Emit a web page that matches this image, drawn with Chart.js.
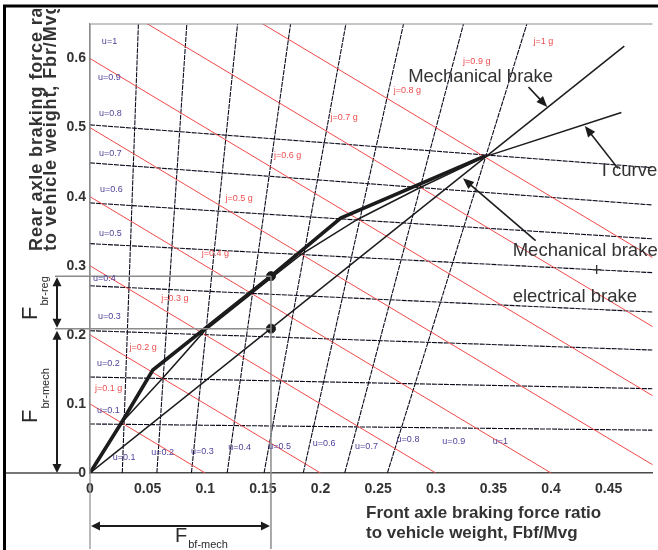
<!DOCTYPE html>
<html><head><meta charset="utf-8">
<script src="https://cdn.jsdelivr.net/npm/chart.js@4"></script>
<style>html,body{margin:0;padding:0;background:#fff}canvas{display:block}</style>
</head><body>
<canvas id="c" width="658" height="550"></canvas>
<script>
const FONT = '"Liberation Sans", Arial, Helvetica, sans-serif';

// axis ranges (front ratio Fbf/Mvg on x, rear ratio Fbr/Mvg on y)
const xMin = 0, xMax = 0.488, xStep = 0.05;
const yMin = 0, yMax = 0.65, yStep = 0.1;

// constant deceleration lines j = Fbf + Fbr
const jLevels = [0.1, 0.2, 0.3, 0.4, 0.5, 0.6, 0.7, 0.8];

// rear axle adhesion utilisation lines (nearly horizontal), u = 0.1 ... 0.8
const rearU = [0.1, 0.2, 0.3, 0.4, 0.5, 0.6, 0.7, 0.8];
const rearStartFbr = [0.071, 0.139, 0.206, 0.271, 0.332, 0.391, 0.449, 0.504]; // at Fbf = 0
const rearEndFbr   = [0.062, 0.122, 0.178, 0.233, 0.290, 0.339, 0.388, 0.442]; // at Fbf = rearEndFbf
const rearEndFbf = 0.488;

// front axle adhesion utilisation lines (nearly vertical), u = 0.1 ... 0.8
const frontU = [0.1, 0.2, 0.3, 0.4, 0.5, 0.6, 0.7, 0.8];
const frontBottomFbf = [0.028, 0.058, 0.088, 0.119, 0.151, 0.185, 0.221, 0.258]; // at Fbr = 0
const frontTopFbf    = [0.042, 0.084, 0.128, 0.174, 0.222, 0.272, 0.324, 0.379]; // at Fbr = frontTopFbr
const frontTopFbr = 0.65;

// ideal braking force distribution (I curve)
const iCurveFbf = [0, 0.027, 0.063, 0.099, 0.157, 0.183, 0.232, 0.286, 0.343, 0.461];
const iCurveFbr = [0, 0.072, 0.137, 0.205, 0.282, 0.316, 0.367, 0.413, 0.458, 0.522];

// mechanical + electrical (regenerative) brake distribution
const combinedFbf = [0, 0.027, 0.0545, 0.157, 0.2175, 0.343];
const combinedFbr = [0, 0.072, 0.149, 0.285, 0.369, 0.459];

// mechanical brake only (fixed ratio line)
const mechFbf = [0, 0.4635];
const mechFbr = [0, 0.618];

// marked operating points
const markFbf = [0.157, 0.157];
const markFbr = [0.285, 0.209];

// labels
const rearLabelText = ['u=1','u=0.9','u=0.8','u=0.7','u=0.6','u=0.5','u=0.4','u=0.3','u=0.2','u=0.1'];
const rearLabelFbf  = [0.0103, 0.0069, 0.0077, 0.0077, 0.0086, 0.0077, 0.0026, 0.0069, 0.006, 0.006];
const rearLabelFbr  = [0.624, 0.573, 0.521, 0.463, 0.410, 0.347, 0.282, 0.226, 0.159, 0.091];

const frontLabelText = ['u=0.1','u=0.2','u=0.3','u=0.4','u=0.5','u=0.6','u=0.7','u=0.8','u=0.9','u=1'];
const frontLabelFbf  = [0.0198, 0.0532, 0.0876, 0.120, 0.1546, 0.1932, 0.230, 0.266, 0.3057, 0.3495];
const frontLabelFbr  = [0.0217, 0.029, 0.0318, 0.0362, 0.039, 0.0434, 0.039, 0.0478, 0.0463, 0.0463];

const jLabelText = ['j=0.1 g','j=0.2 g','j=0.3 g','j=0.4 g','j=0.5 g','j=0.6 g','j=0.7 g','j=0.8 g','j=0.9 g','j=1 g'];
const jLabelFbf  = [0.0043, 0.0343, 0.0618, 0.097, 0.1176, 0.1597, 0.2087, 0.2636, 0.3237, 0.3847];
const jLabelFbr  = [0.1216, 0.181, 0.252, 0.318, 0.397, 0.459, 0.515, 0.554, 0.595, 0.625];

const noteText = ['Mechanical brake', 'I curve', 'Mechanical brake', 'electrical brake'];
const noteFbf  = [0.276, 0.444, 0.3667, 0.3667];
const noteFbr  = [0.566, 0.430, 0.314, 0.2475];
const plusFbf = 0.4395, plusFbr = 0.2924;

const arrowFromFbf = [0.3804, 0.458, 0.3866];
const arrowFromFbr = [0.5588, 0.441, 0.3363];
const arrowToFbf   = [0.3967, 0.4293, 0.3236];
const arrowToFbr   = [0.5298, 0.5024, 0.4266];

const xTitle = ['Front axle braking force ratio', 'to vehicle weight, Fbf/Mvg'];
const yTitle = ['Rear axle braking force ratio', 'to vehicle weight, Fbr/Mvg'];

// ---------------- datasets ----------------
const pts = (xs, ys) => xs.map((x, i) => ({x, y: ys[i]}));
const datasets = [];
const lineBase = {showLine: true, pointRadius: 0, tension: 0, fill: false};

jLevels.forEach(j => datasets.push(Object.assign({}, lineBase, {
  data: [{x: 0, y: j}, {x: j, y: 0}], borderColor: '#ef4a4a', borderWidth: 1, order: 9
})));
rearU.forEach((u, i) => datasets.push(Object.assign({}, lineBase, {
  data: [{x: 0, y: rearStartFbr[i]}, {x: rearEndFbf, y: rearEndFbr[i]}],
  borderColor: '#0c0c1e', borderWidth: 1.1, borderDash: [5, 1], order: 10
})));
frontU.forEach((u, i) => datasets.push(Object.assign({}, lineBase, {
  data: [{x: frontBottomFbf[i], y: 0}, {x: frontTopFbf[i], y: frontTopFbr}],
  borderColor: '#0c0c1e', borderWidth: 1.1, borderDash: [5, 1], order: 10
})));
datasets.push(Object.assign({}, lineBase, {data: pts(mechFbf, mechFbr), borderColor: '#1c1c1c', borderWidth: 1.5, order: 3}));
datasets.push(Object.assign({}, lineBase, {data: pts(iCurveFbf, iCurveFbr), borderColor: '#1c1c1c', borderWidth: 1.5, order: 2}));
datasets.push(Object.assign({}, lineBase, {data: pts(combinedFbf, combinedFbr), borderColor: '#1c1c1c', borderWidth: 3.6, order: 1}));
datasets.push({data: pts(markFbf, markFbr), showLine: false, pointRadius: 4.5, pointBackgroundColor: '#1c1c1c', pointBorderColor: '#1c1c1c', order: 0});

// ---------------- drawing helpers ----------------
function seg(ctx, x1, y1, x2, y2) { ctx.beginPath(); ctx.moveTo(x1, y1); ctx.lineTo(x2, y2); ctx.stroke(); }
function head(ctx, x1, y1, x2, y2, len, hw) {
  const a = Math.atan2(y2 - y1, x2 - x1);
  ctx.beginPath();
  ctx.moveTo(x2, y2);
  ctx.lineTo(x2 - len * Math.cos(a) + hw * Math.sin(a), y2 - len * Math.sin(a) - hw * Math.cos(a));
  ctx.lineTo(x2 - len * Math.cos(a) - hw * Math.sin(a), y2 - len * Math.sin(a) + hw * Math.cos(a));
  ctx.closePath(); ctx.fill();
}
function arrow(ctx, x1, y1, x2, y2, len, hw) {
  const a = Math.atan2(y2 - y1, x2 - x1);
  seg(ctx, x1, y1, x2 - len * 0.8 * Math.cos(a), y2 - len * 0.8 * Math.sin(a));
  head(ctx, x1, y1, x2, y2, len, hw);
}
function dblArrow(ctx, x1, y1, x2, y2, len, hw) {
  const a = Math.atan2(y2 - y1, x2 - x1);
  seg(ctx, x1 + len * 0.8 * Math.cos(a), y1 + len * 0.8 * Math.sin(a), x2 - len * 0.8 * Math.cos(a), y2 - len * 0.8 * Math.sin(a));
  head(ctx, x1, y1, x2, y2, len, hw);
  head(ctx, x2, y2, x1, y1, len, hw);
}
function fSub(ctx, x, y, rot, sub, subDy, fSize) {
  ctx.save();
  ctx.translate(x, y);
  if (rot) ctx.rotate(-Math.PI / 2);
  ctx.textAlign = 'left'; ctx.textBaseline = 'alphabetic';
  ctx.font = fSize + 'px ' + FONT;
  ctx.fillText('F', 0, 0);
  const w = ctx.measureText('F').width;
  ctx.font = '11px ' + FONT;
  ctx.fillText(sub, w + 1, subDy);
  ctx.restore();
}

const annot = {
  id: 'annot',
  afterDraw(chart) {
    const {ctx, chartArea: ca} = chart;
    const xs = chart.scales.x, ys = chart.scales.y;
    const X = v => xs.getPixelForValue(v), Y = v => ys.getPixelForValue(v);
    ctx.save();

    // plot frame lines
    ctx.strokeStyle = '#8c8c8c'; ctx.lineWidth = 1.2;
    seg(ctx, ca.left, ca.top, ca.right, ca.top);
    seg(ctx, X(0), ca.top, X(0), 549);
    ctx.strokeStyle = '#4a4a4a'; ctx.lineWidth = 1.4;
    seg(ctx, 5, Y(0), 80, Y(0));

    // guide lines to the marked points
    ctx.strokeStyle = '#8c8c8c'; ctx.lineWidth = 1.5;
    seg(ctx, 55, Y(markFbr[0]), X(markFbf[0]), Y(markFbr[0]));
    seg(ctx, 55, Y(markFbr[1]), X(markFbf[1]), Y(markFbr[1]));
    seg(ctx, X(markFbf[0]), Y(markFbr[0]), X(markFbf[0]), 549);

    // dimension arrows
    ctx.strokeStyle = '#1c1c1c'; ctx.fillStyle = '#1c1c1c'; ctx.lineWidth = 2;
    dblArrow(ctx, 57, Y(markFbr[0]) + 1, 57, Y(markFbr[1]) - 1, 9, 4.5);
    dblArrow(ctx, 57, Y(markFbr[1]) + 2, 57, Y(0), 9, 4.5);
    dblArrow(ctx, X(0) + 1, 526, X(markFbf[0]) - 1, 526, 9, 4.5);

    // F labels
    ctx.fillStyle = '#2a2a2a';
    fSub(ctx, 37, 320, true, 'br-reg', 11, 22);
    fSub(ctx, 37, 423, true, 'br-mech', 12, 22);
    fSub(ctx, 175, 542, false, 'bf-mech', 6, 20);

    // callout arrows
    ctx.strokeStyle = '#1c1c1c'; ctx.fillStyle = '#1c1c1c'; ctx.lineWidth = 1.6;
    arrowFromFbf.forEach((v, i) => arrow(ctx, X(v), Y(arrowFromFbr[i]), X(arrowToFbf[i]), Y(arrowToFbr[i]), 11, 4.5));

    // callout texts
    ctx.fillStyle = '#333';
    ctx.font = '18.5px ' + FONT; ctx.textAlign = 'left'; ctx.textBaseline = 'alphabetic';
    noteText.forEach((t, i) => ctx.fillText(t, X(noteFbf[i]), Y(noteFbr[i])));
    ctx.textAlign = 'center'; ctx.textBaseline = 'middle';
    ctx.fillText('+', X(plusFbf), Y(plusFbr));

    // small line labels
    ctx.font = '9px ' + FONT; ctx.textAlign = 'left'; ctx.textBaseline = 'middle';
    ctx.fillStyle = '#4e3f98';
    rearLabelText.forEach((t, i) => ctx.fillText(t, X(rearLabelFbf[i]), Y(rearLabelFbr[i])));
    frontLabelText.forEach((t, i) => ctx.fillText(t, X(frontLabelFbf[i]), Y(frontLabelFbr[i])));
    ctx.fillStyle = '#ec4f4f';
    jLabelText.forEach((t, i) => ctx.fillText(t, X(jLabelFbf[i]), Y(jLabelFbr[i])));

    // axis titles
    ctx.fillStyle = '#333';
    ctx.font = 'bold 17px ' + FONT; ctx.textAlign = 'left'; ctx.textBaseline = 'alphabetic';
    ctx.fillText(xTitle[0], 366, 518);
    ctx.fillText(xTitle[1], 366, 538);
    ctx.save();
    ctx.beginPath(); ctx.rect(0, 9, 90, 541); ctx.clip();
    ctx.font = 'bold 18px ' + FONT;
    try { ctx.letterSpacing = '0.9px'; } catch (e) {}
    ctx.save(); ctx.translate(41.5, 251); ctx.rotate(-Math.PI / 2); ctx.fillText(yTitle[0], 0, 0); ctx.restore();
    ctx.save(); ctx.translate(56, 251); ctx.rotate(-Math.PI / 2); ctx.fillText(yTitle[1], 0, 0); ctx.restore();
    ctx.restore();

    // outer frame
    ctx.strokeStyle = '#000'; ctx.lineWidth = 3;
    ctx.strokeRect(4.5, 6, 700, 600);
    ctx.restore();
  }
};

const tickFmt = v => String(+(+v).toFixed(2));

new Chart(document.getElementById('c'), {
  type: 'scatter',
  data: {datasets},
  options: {
    responsive: false, animation: false, devicePixelRatio: 1,
    layout: {padding: {top: 24, right: 0, left: 0, bottom: 0}},
    plugins: {legend: {display: false}, tooltip: {enabled: false}},
    scales: {
      x: {
        type: 'linear', min: xMin, max: xMax,
        afterFit: s => { s.height = 77; },
        grid: {display: false, drawTicks: false},
        border: {display: true, color: '#4a4a4a', width: 1.4},
        ticks: {stepSize: xStep, includeBounds: false, padding: 8, maxRotation: 0, autoSkip: false,
                color: '#333', font: {family: FONT, size: 14, weight: 'bold'}, callback: tickFmt}
      },
      y: {
        type: 'linear', min: yMin, max: yMax,
        afterFit: s => { s.width = 90; },
        grid: {display: false, drawTicks: false},
        border: {display: true, color: '#8c8c8c', width: 1.2},
        ticks: {stepSize: yStep, includeBounds: false, padding: 4, autoSkip: false,
                color: '#333', font: {family: FONT, size: 14, weight: 'bold'}, callback: tickFmt}
      }
    }
  },
  plugins: [annot]
});
</script>
</body></html>
